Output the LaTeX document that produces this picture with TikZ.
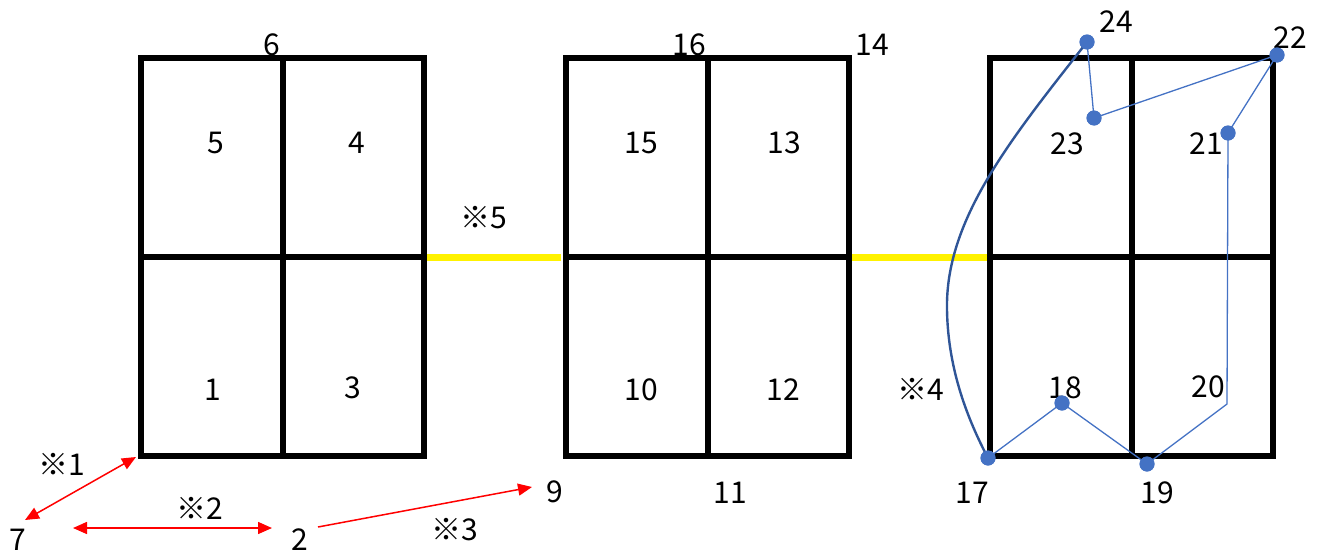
\documentclass[tikz,border=0pt]{standalone}
\usepackage{fontspec}
\setmainfont{Noto Sans CJK JP}
\usetikzlibrary{arrows.meta}
\definecolor{ptblue}{HTML}{4472C4}
\definecolor{curveblue}{HTML}{2F5597}
\begin{document}
\begin{tikzpicture}[x=1pt,y=-1pt,
  >={Triangle[length=14pt,width=12pt]},
  lab/.style={font=\fontsize{30}{31}\selectfont, inner sep=0pt},
  gridline/.style={line width=5.5pt, draw=black},
  bridge/.style={line width=7pt, draw=yellow},
  ptdot/.style={circle, fill=ptblue, minimum size=15pt, inner sep=0pt},
  pathline/.style={draw=ptblue, line width=1.3pt},
  curveline/.style={draw=curveblue, line width=2.4pt},
  redarr/.style={draw=red, fill=red, line width=1.5pt}
]
\useasboundingbox (0,0) rectangle (1322,554);
% yellow bridges
\draw[bridge] (426,257) -- (561,257);
\draw[bridge] (850,257) -- (987,257);
% grids
\foreach \x in {141,566,990}{
  \draw[gridline] (\x,58) rectangle ++(283,398);
  \draw[gridline] (\x+142,58) -- (\x+142,456);
  \draw[gridline] (\x,257) -- (\x+283,257);
}
% labels
\node[lab] (l6) at (272,45) {6};
\node[lab] (l5) at (216,143) {5};
\node[lab] (l4) at (357,143) {4};
\node[lab] (l1) at (213,390) {1};
\node[lab] (l3) at (353,388) {3};
\node[lab] (l16) at (689,45) {16};
\node[lab] (l14) at (872,45) {14};
\node[lab] (l15) at (641,143) {15};
\node[lab] (l13) at (784,143) {13};
\node[lab] (l10) at (641,390) {10};
\node[lab] (l12) at (783,390) {12};
\node[lab] (l11) at (730,493) {11};
\node[lab] (l9) at (555,492) {9};
\node[lab] (l7) at (18,540) {7};
\node[lab] (l2) at (300,540) {2};
\node[lab] (l24) at (1116,22) {24};
\node[lab] (l22) at (1290,38) {22};
\node[lab] (l23) at (1067,144) {23};
\node[lab] (l21) at (1206,144) {21};
\node[lab] (l18) at (1065,388) {18};
\node[lab] (l20) at (1208,387) {20};
\node[lab] (l17) at (972,493) {17};
\node[lab] (l19) at (1157,493) {19};
\node[lab] (n5) at (484,218) {※5};
\node[lab] (n4) at (921,389) {※4};
\node[lab] (n1) at (62,464) {※1};
\node[lab] (n2) at (200,508) {※2};
\node[lab] (n3) at (455,530) {※3};
% curve
\node[ptdot] (p24) at (1087,42) {};
\node[ptdot] (p17) at (988,458) {};
\draw[curveline] (p24.center) .. controls (1010,140) and (945,220) .. (947,310)
  .. controls (948,370) and (968,420) .. (p17.center);
% points
\node[ptdot] (p22) at (1277,55) {};
\node[ptdot] (p23) at (1094,118) {};
\node[ptdot] (p21) at (1228,133) {};
\node[ptdot] (p18) at (1062,403) {};
\node[ptdot] (p19) at (1147,464) {};
\coordinate (c20) at (1227,404);
\draw[pathline] (p17.center) -- (p18.center) -- (p19.center) -- (c20) -- (p21.center)
  -- (p22.center) -- (p23.center) -- (p24.center);
\node[ptdot] at (p17) {};
\node[ptdot] at (p24) {};
\node[ptdot] at (p22) {};
\node[ptdot] at (p23) {};
\node[ptdot] at (p21) {};
\node[ptdot] at (p18) {};
\node[ptdot] at (p19) {};
% red arrows
\coordinate (a1s) at (136,457);
\coordinate (a1e) at (25,520);
\coordinate (a2s) at (73,528);
\coordinate (a2e) at (272,528);
\coordinate (a3s) at (318,527);
\coordinate (a3e) at (532,487);
\draw[redarr, <->] (a1s) -- (a1e);
\draw[redarr, <->] (a2s) -- (a2e);
\draw[redarr, ->] (a3s) -- (a3e);
\end{tikzpicture}
\end{document}
